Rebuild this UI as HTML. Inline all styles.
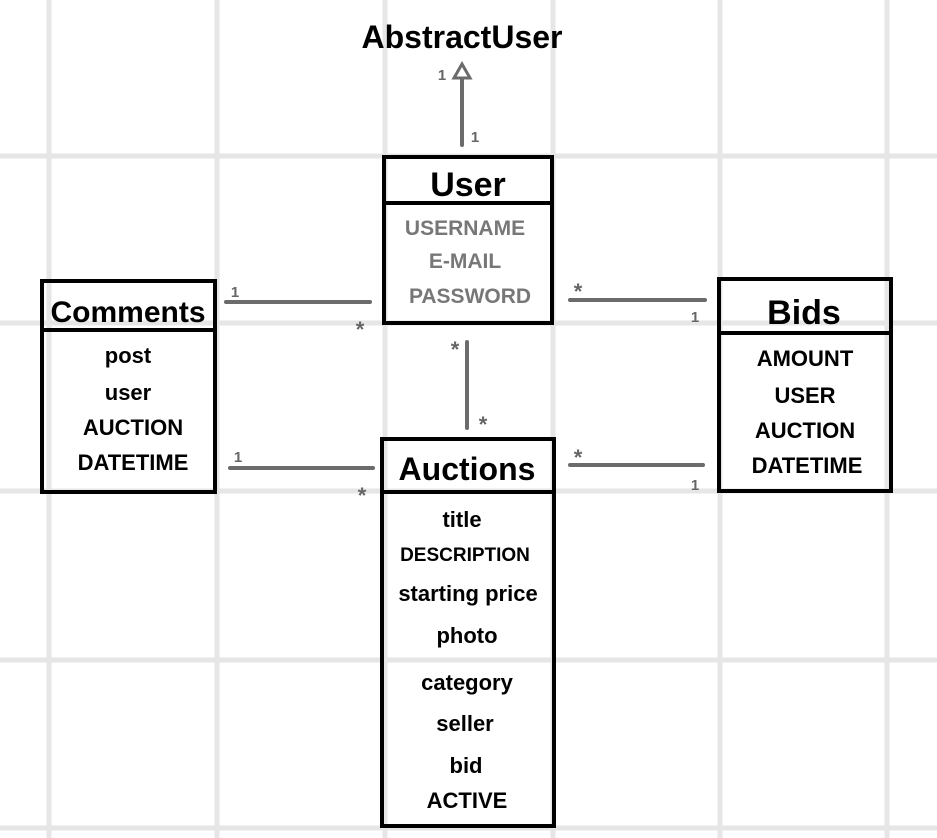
<!DOCTYPE html>
<html><head><meta charset="utf-8"><style>
html,body{margin:0;padding:0;background:#fff;}
svg{display:block;}
text{font-family:"Liberation Sans",sans-serif;text-anchor:middle;}
.t{font-weight:bold;font-size:34px;fill:#000;}
.a{font-size:22px;fill:#000;font-weight:bold;}
.g{font-size:21px;fill:#777;font-weight:bold;}
.m{font-size:15px;fill:#666;font-weight:bold;}
.s{font-size:22px;fill:#666;font-weight:bold;}
</style></head><body>
<svg width="937" height="838" viewBox="0 0 937 838">
<g stroke="#e6e6e6" stroke-width="5">
<line x1="49" y1="0" x2="49" y2="838"/><line x1="217" y1="0" x2="217" y2="838"/>
<line x1="385" y1="0" x2="385" y2="838"/><line x1="553" y1="0" x2="553" y2="838"/>
<line x1="720" y1="0" x2="720" y2="838"/><line x1="887" y1="0" x2="887" y2="838"/>
<line x1="0" y1="156" x2="937" y2="156"/><line x1="0" y1="323" x2="937" y2="323"/>
<line x1="0" y1="491" x2="937" y2="491"/><line x1="0" y1="660" x2="937" y2="660"/>
<line x1="0" y1="828" x2="937" y2="828"/>
</g>
<g stroke="#6b6b6b" stroke-width="4" fill="none" stroke-linecap="round">
<line x1="462" y1="145" x2="462" y2="78"/>
<polygon points="462,64 454,78 470,78" fill="#fff" stroke-width="3"/>
<line x1="226" y1="302" x2="370" y2="302"/>
<line x1="230" y1="468" x2="373" y2="468"/>
<line x1="570" y1="300" x2="705" y2="300"/>
<line x1="570" y1="465" x2="703" y2="465"/>
<line x1="467" y1="342" x2="467" y2="428"/>
</g>
<g>
<text x="442" y="80" class="m">1</text><text x="475" y="142" class="m">1</text>
<text x="235" y="297" class="m">1</text><text x="360" y="337" class="s">*</text>
<text x="238" y="462" class="m">1</text><text x="362" y="503" class="s">*</text>
<text x="578" y="299" class="s">*</text><text x="695" y="322" class="m">1</text>
<text x="578" y="465" class="s">*</text><text x="695" y="490" class="m">1</text>
<text x="455" y="357" class="s">*</text><text x="483" y="432" class="s">*</text>
</g>
<text x="462" y="48" class="t" style="font-size:32px">AbstractUser</text>
<g stroke="#000" stroke-width="4" fill="none">
<rect x="384" y="157" width="168" height="166"/><line x1="384" y1="203" x2="552" y2="203"/>
<rect x="42" y="281" width="173" height="211"/><line x1="42" y1="330" x2="215" y2="330"/>
<rect x="719" y="279" width="172" height="212"/><line x1="719" y1="333" x2="891" y2="333"/>
<rect x="382" y="439" width="172" height="387"/><line x1="382" y1="492" x2="554" y2="492"/>
</g>
<text x="468" y="196" class="t">User</text>
<text x="465" y="235" class="g">USERNAME</text>
<text x="465" y="268" class="g">E-MAIL</text>
<text x="470" y="303" class="g">PASSWORD</text>
<text x="128" y="322" class="t" style="font-size:30px">Comments</text>
<text x="128" y="363" class="a">post</text>
<text x="128" y="400" class="a">user</text>
<text x="133" y="435" class="a">AUCTION</text>
<text x="133" y="470" class="a">DATETIME</text>
<text x="804" y="324" class="t">Bids</text>
<text x="805" y="366" class="a">AMOUNT</text>
<text x="805" y="403" class="a">USER</text>
<text x="805" y="438" class="a">AUCTION</text>
<text x="807" y="473" class="a">DATETIME</text>
<text x="467" y="480" class="t" style="font-size:32px">Auctions</text>
<text x="462" y="527" class="a">title</text>
<text x="465" y="561" class="a" style="font-size:19px">DESCRIPTION</text>
<text x="468" y="601" class="a">starting price</text>
<text x="467" y="643" class="a">photo</text>
<text x="467" y="690" class="a">category</text>
<text x="465" y="731" class="a">seller</text>
<text x="466" y="773" class="a">bid</text>
<text x="467" y="808" class="a">ACTIVE</text>
</svg>
</body></html>
